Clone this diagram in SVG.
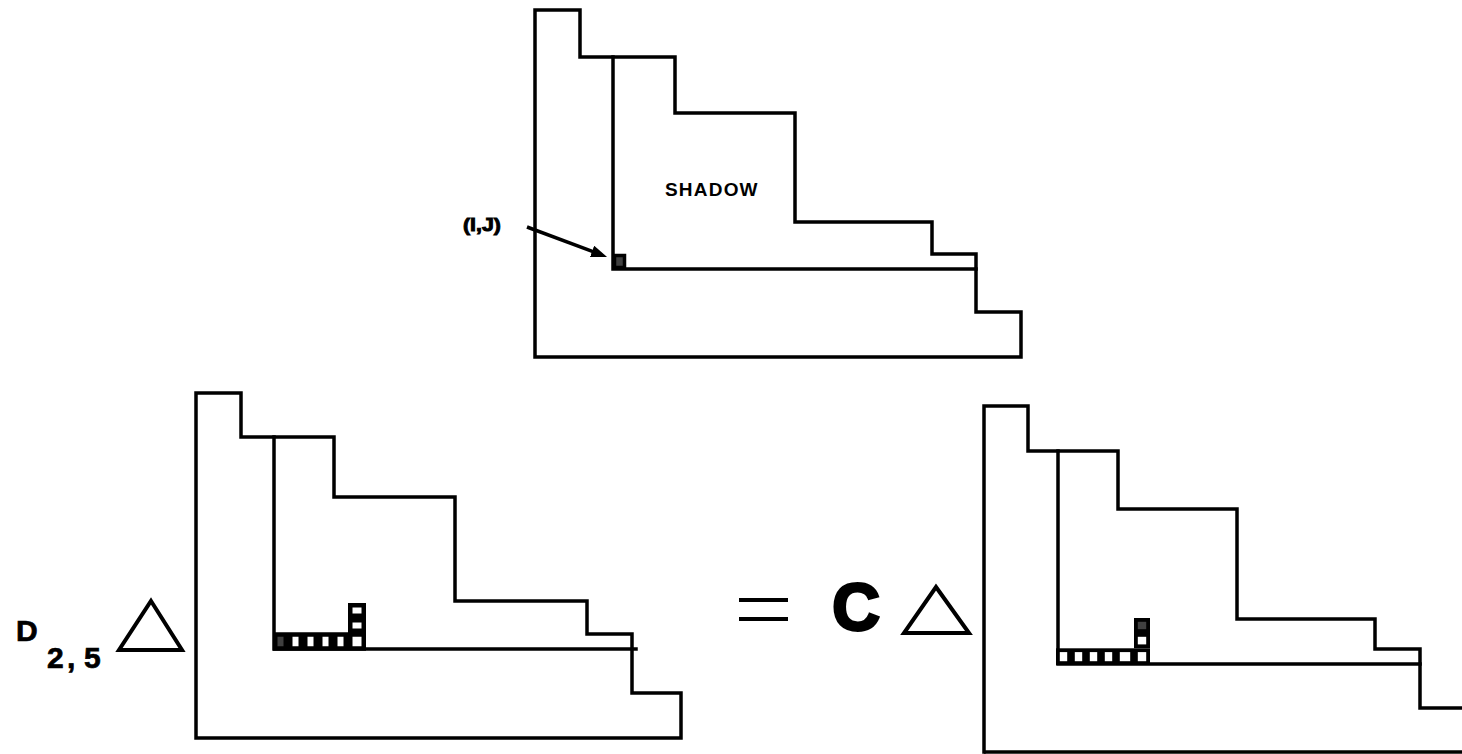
<svg xmlns="http://www.w3.org/2000/svg" width="1462" height="754" viewBox="0 0 1462 754">
<style>
.ln{fill:none;stroke:#000;stroke-width:3.5;stroke-linecap:square;stroke-linejoin:miter}
.tri{fill:none;stroke:#000;stroke-width:4;stroke-linejoin:miter}
.cl{fill:#fff;stroke:#000;stroke-width:4.5}
.cr{fill:#fff;stroke:#000;stroke-width:3.8}
.dk{fill:#404040}
.t{font-family:"Liberation Sans",Arial,sans-serif;font-weight:bold;fill:#000}
.lb{stroke:#000;stroke-width:0.7;font-size:30px}
</style>
<defs>
<marker id="ah" markerUnits="userSpaceOnUse" markerWidth="16" markerHeight="13" refX="1" refY="6" orient="auto">
<path d="M0,0 L16,6 L0,12 Z" fill="#000"/>
</marker>
</defs>
<rect width="1462" height="754" fill="#fff"/>

<g id="top-diagram">
<path class="ln" d="M535,10 H580 V57 H675 V113 H795 V222 H932 V254 H976 V312 H1021 V357 H535 Z"/>
<path class="ln" d="M613,57 V269 H976"/>
<rect x="614.5" y="255.5" width="10" height="12" class="dk" stroke="#000" stroke-width="3.5"/>
<text class="t" x="665" y="196" font-size="19" letter-spacing="1.2">SHADOW</text>
<text class="t" x="463" y="231" font-size="18" stroke="#000" stroke-width="0.9" textLength="38" lengthAdjust="spacingAndGlyphs">(I,J)</text>
</g>

<g id="connectors">
<line x1="527" y1="227" x2="593" y2="251.7" stroke="#000" stroke-width="3.5" marker-end="url(#ah)"/>
</g>

<g id="left-diagram">
<path class="ln" d="M196,393 H241 V437 H334 V497 H455 V601 H587 V634 H632 V693 H681 V738 H196 Z"/>
<path class="ln" d="M274,437 V649 H636"/>
<g id="left-cells">
<rect class="cl" x="275.25" y="634.5" width="10.5" height="14" style="fill:#404040"/>
<rect class="cl" x="290.25" y="634.5" width="10.5" height="14"/>
<rect class="cl" x="305.25" y="634.5" width="10.5" height="14"/>
<rect class="cl" x="320.25" y="634.5" width="10.5" height="14"/>
<rect class="cl" x="335.25" y="634.5" width="10.5" height="14"/>
<rect class="cl" x="350.25" y="634.5" width="13.5" height="14"/>
<rect class="cl" x="350.25" y="620.25" width="13.5" height="10.5"/>
<rect class="cl" x="350.25" y="605.25" width="13.5" height="10.5"/>
</g>
</g>

<g id="left-label">
<text class="t lb" x="16" y="641">D</text>
<text class="t lb" y="668"><tspan x="47">2</tspan><tspan x="67">,</tspan><tspan x="84">5</tspan></text>
<polygon class="tri" points="151,601 182,650 119,650"/>
</g>

<g id="equals">
<line x1="739" y1="600" x2="788" y2="600" stroke="#000" stroke-width="4"/>
<line x1="739" y1="619" x2="788" y2="619" stroke="#000" stroke-width="4"/>
</g>

<g id="right-label">
<text class="t" x="856" y="630" font-size="66" text-anchor="middle" stroke="#000" stroke-width="3">C</text>
<polygon class="tri" points="936,587 969,633 904,633"/>
</g>

<g id="right-diagram">
<path class="ln" d="M984,752 V406 H1028 V451 H1118 V509 H1237 V619 H1375 V649 H1420 V708 H1466"/>
<line x1="984" y1="752" x2="1466" y2="752" stroke="#000" stroke-width="3.5"/>
<path class="ln" d="M1058,451 V664 H1420"/>
<g id="right-cells">
<rect class="cr" x="1057.9" y="650.2" width="11.2" height="12.9"/>
<rect class="cr" x="1072.9" y="650.2" width="11.2" height="12.9"/>
<rect class="cr" x="1087.9" y="650.2" width="11.2" height="12.9"/>
<rect class="cr" x="1102.9" y="650.2" width="11.2" height="12.9"/>
<rect class="cr" x="1117.9" y="650.2" width="14.2" height="12.9"/>
<rect class="cr" x="1135.9" y="650.2" width="12.2" height="12.9"/>
<rect class="cr" x="1135.9" y="634.9" width="12.2" height="11.4"/>
<rect class="cr" x="1135.9" y="619.9" width="12.2" height="11.2" style="fill:#404040"/>
</g>
</g>
</svg>
